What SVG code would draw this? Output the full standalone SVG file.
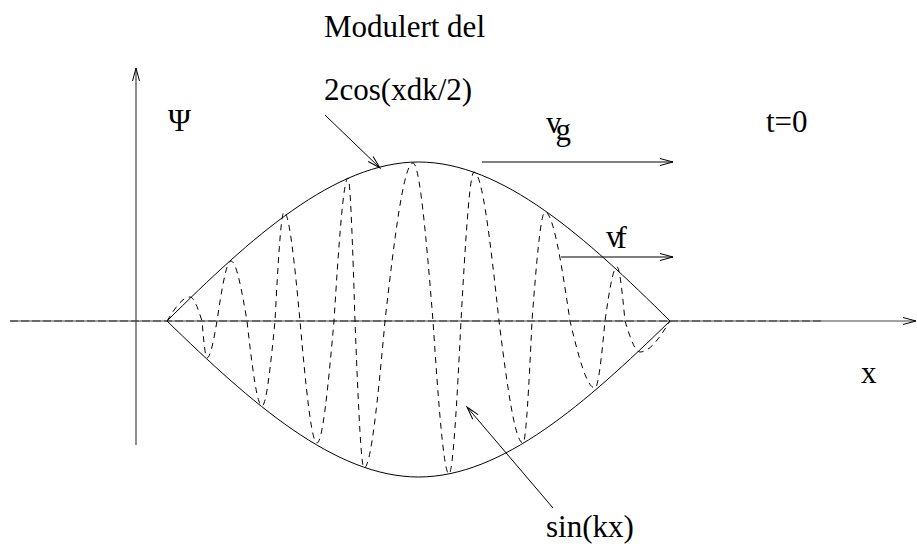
<svg xmlns="http://www.w3.org/2000/svg" width="917" height="544" viewBox="0 0 917 544">
<style>
.ln{fill:none;stroke:#000;stroke-width:1}
.ax{fill:none;stroke:#444;stroke-width:1.2}
.dash{fill:none;stroke:#000;stroke-width:1;stroke-dasharray:6,5}
.axd{fill:none;stroke:#333;stroke-width:1.2;stroke-dasharray:8,3}
.t{font-size:31px;fill:#000}
</style>
<defs>
<marker id="ah" markerUnits="userSpaceOnUse" markerWidth="16" markerHeight="10" refX="13" refY="4" orient="auto" overflow="visible">
<path d="M0,0.5 L13,4 L0,7.5" fill="none" stroke="#000" stroke-width="1"/>
</marker>
</defs>
<rect width="917" height="544" fill="#fff"/>
<g id="axes">
<line class="ax" x1="136" y1="445" x2="136" y2="68" marker-end="url(#ah)"/>
<line class="ax" x1="10" y1="321" x2="916" y2="321" marker-end="url(#ah)"/>
<line class="axd" x1="10" y1="321" x2="823" y2="321"/>
</g>
<g id="envelope">
<path class="ln" d="M167,321 C251.1,237.5 334.6,162 418.5,162 C502.4,162 585.9,237.5 670,321"/>
<path class="ln" d="M167,321 C251.1,402.9 334.6,477 418.5,477 C502.4,477 585.9,402.9 670,321"/>
</g>
<g id="carrier">
<path class="dash" d="M167,321 C174.7,308.4 182.3,297 190,297 C194,297 198,308.4 202,321
C203.7,340.4 205.3,358 207,358 C210.3,358 213.7,340.4 217,321
C221.7,289.5 226.3,261 231,261 C236.3,261 241.7,289.5 247,321
C252,365.6 257,406 262,406 C266.3,406 270.7,365.6 275,321
C278,263.8 281,212 284,212 C289.3,212 294.7,263.8 300,321
C305.7,385.1 311.3,443 317,443 C322.7,443 328.3,385.1 334,321
C338.7,245.9 343.3,178 348,178 C350.3,178 352.7,245.9 355,321
C358,398.2 361,468 364,468 C371,468 378,398.2 385,321
C394.4,238 403.7,163 413,163 C419.7,163 426.3,238 433,321
C438.3,401.3 443.7,474 449,474 C453,474 457,401.3 461,321
C465.3,242.8 469.7,172 474,172 C482.3,172 490.6,242.8 499,321
C507,385.1 515,443 523,443 C526,443 529,385.1 532,321
C536.3,263.8 540.7,212 545,212 C553.3,212 561.6,263.8 570,321
C578.4,356.2 586.7,388 595,388 C598.3,388 601.7,356.2 605,321
C609,292.6 613,267 617,267 C619.7,267 622.3,292.6 625,321
C630,337.3 635,352 640,352 C650,352 660,337.3 670,321"/>
</g>
<g id="connectors">
<line class="ln" x1="325" y1="115" x2="380" y2="168" marker-end="url(#ah)"/>
<line class="ln" x1="553" y1="508" x2="467" y2="407" marker-end="url(#ah)"/>
<line class="ln" x1="482" y1="162" x2="673" y2="162" marker-end="url(#ah)"/>
<line class="ln" x1="561" y1="257" x2="673" y2="257" marker-end="url(#ah)"/>
</g>
<g id="labels" font-family="'Liberation Serif', 'Times New Roman', 'DejaVu Serif', serif">
<text class="t" x="324" y="37">Modulert del</text>
<text class="t" x="324" y="100">2cos(xdk/2)</text>
<text class="t" x="168" y="131">Ψ</text>
<text class="t" x="546" y="133">v<tspan dx="-6" dy="7">g</tspan></text>
<text class="t" x="606" y="247">v<tspan dx="-5" dy="1">f</tspan></text>
<text class="t" x="766" y="132">t=0</text>
<text class="t" x="861" y="383">x</text>
<text class="t" x="546" y="537">sin(kx)</text>
</g>
</svg>
